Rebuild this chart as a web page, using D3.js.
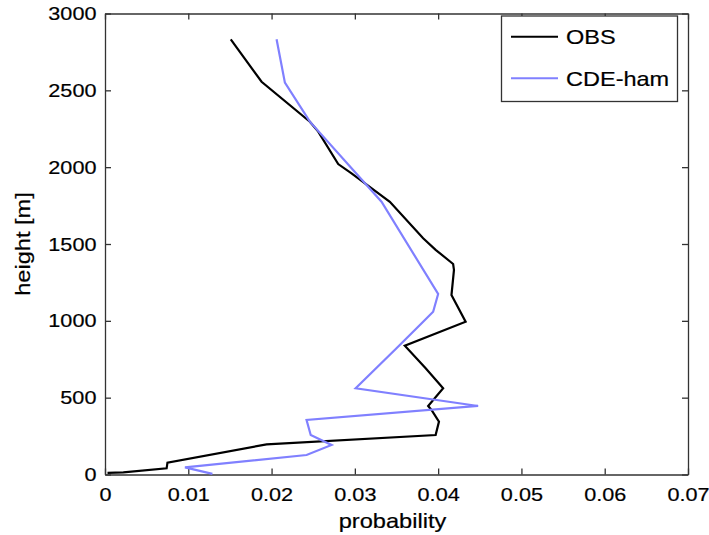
<!DOCTYPE html>
<html>
<head>
<meta charset="utf-8">
<script src="https://cdn.jsdelivr.net/npm/d3@7"></script>
<style>
  html, body { margin: 0; padding: 0; background: #fff; }
  svg { display: block; }
  text { font-family: "Liberation Sans", Arial, Helvetica, sans-serif; fill: #000; }
</style>
</head>
<body>
<svg id="chart" width="709" height="535"></svg>
<script>
// Vertical probability profiles: probability (x) against height in metres (y)
const obsProb   = [0.0151, 0.0188, 0.0246, 0.0256, 0.0280, 0.0296, 0.0342, 0.0382, 0.0397, 0.0418, 0.0419, 0.0416, 0.0433, 0.0360, 0.0385, 0.0406, 0.0388, 0.0392, 0.0401, 0.0397, 0.0194, 0.0075, 0.0074, 0.0022, 0.0003];
const obsHeight = [2832,   2556,   2296,   2231,   2020,   1960,   1775,   1537,   1462,   1370,   1331,   1168,   994,    838,    691,    561,    446,    420,    344,    257,    196,    77,     40,     14,     10];

const cdeProb   = [0.0206, 0.0216, 0.0246, 0.0332, 0.0400, 0.0394, 0.0382, 0.0350, 0.0301, 0.0448, 0.0242, 0.0247, 0.0272, 0.0242, 0.0096, 0.0129];
const cdeHeight = [2832,   2550,   2296,   1775,   1175,   1059,   994,    821,    561,    446,    355,    257,    192,    127,    46,     4];

const xTicks = [0, 0.01, 0.02, 0.03, 0.04, 0.05, 0.06, 0.07];
const yTicks = [0, 500, 1000, 1500, 2000, 2500, 3000];
const seriesNames = ["OBS", "CDE-ham"];
const seriesColors = ["#000000", "#8080ff"];

const svg = d3.select("#chart");
const plotLeft = 105, plotRight = 688, plotTop = 13.5, plotBottom = 474.5;

const x = d3.scaleLinear().domain([0, 0.07]).range([plotLeft, plotRight]);
const y = d3.scaleLinear().domain([0, 3000]).range([plotBottom, plotTop]);

const frameColor = "#333";
const tickLen = 6;
const fontSize = 19;
const widen = 1.14;   // labels use a wide Helvetica-style face

// Axes: box with inward ticks on every side
const xAxisB = d3.axisBottom(x).tickValues(xTicks).tickSizeInner(-tickLen).tickSizeOuter(0)
  .tickPadding(13).tickFormat(d => d === 0 ? "0" : d3.format(".2f")(d));
const xAxisT = d3.axisTop(x).tickValues(xTicks).tickSizeInner(-tickLen).tickSizeOuter(0).tickFormat("");
const yAxisL = d3.axisLeft(y).tickValues(yTicks).tickSizeInner(-tickLen).tickSizeOuter(0)
  .tickPadding(7.5).tickFormat(d3.format("d"));
const yAxisR = d3.axisRight(y).tickValues(yTicks).tickSizeInner(-tickLen).tickSizeOuter(0).tickFormat("");

function style(g) {
  g.select(".domain").attr("stroke", frameColor).attr("stroke-width", 1.3);
  g.selectAll(".tick line").attr("stroke", frameColor).attr("stroke-width", 1.3);
  g.selectAll(".tick text")
    .attr("font-size", fontSize).attr("fill", "#000")
    .attr("stroke", "#000").attr("stroke-width", 0.2)
    .attr("transform", `scale(${widen},1)`)
    .style("font-family", '"Liberation Sans", Arial, sans-serif');
}

svg.append("g").attr("transform", `translate(0,${plotBottom})`).call(xAxisB).call(style);
svg.append("g").attr("transform", `translate(0,${plotTop})`).call(xAxisT).call(style);
svg.append("g").attr("transform", `translate(${plotLeft},0)`).call(yAxisL).call(style);
svg.append("g").attr("transform", `translate(${plotRight},0)`).call(yAxisR).call(style);

// Axis titles
svg.append("text")
  .attr("transform", `translate(${(plotLeft + plotRight) / 2 - 4},528) scale(1.18,1)`)
  .attr("text-anchor", "middle").attr("font-size", 20)
  .attr("stroke", "#000").attr("stroke-width", 0.2)
  .text("probability");
svg.append("text")
  .attr("transform", `translate(30,${(plotTop + plotBottom) / 2}) rotate(-90) scale(1.18,1)`)
  .attr("text-anchor", "middle").attr("font-size", 20)
  .attr("stroke", "#000").attr("stroke-width", 0.2)
  .text("height [m]");

// Profiles
const line = d3.line().x(d => x(d[0])).y(d => y(d[1]));
const obsData = d3.zip(obsProb, obsHeight);
const cdeData = d3.zip(cdeProb, cdeHeight);

svg.append("path").datum(obsData)
  .attr("d", line).attr("fill", "none")
  .attr("stroke", seriesColors[0]).attr("stroke-width", 2.2).attr("stroke-linejoin", "miter");
svg.append("path").datum(cdeData)
  .attr("d", line).attr("fill", "none")
  .attr("stroke", seriesColors[1]).attr("stroke-width", 2.2).attr("stroke-linejoin", "miter");

// Legend
const lg = svg.append("g");
lg.append("rect")
  .attr("x", 501.5).attr("y", 16).attr("width", 176).attr("height", 85.5)
  .attr("fill", "#fff").attr("stroke", frameColor).attr("stroke-width", 1.3);
const legendRows = [36.7, 78.3];
seriesNames.forEach((name, i) => {
  lg.append("line")
    .attr("x1", 511).attr("x2", 558)
    .attr("y1", legendRows[i]).attr("y2", legendRows[i])
    .attr("stroke", seriesColors[i]).attr("stroke-width", 2);
  lg.append("text")
    .attr("transform", `translate(566,${legendRows[i] + 7.5}) scale(1.12,1)`)
    .attr("font-size", 21)
    .attr("stroke", "#000").attr("stroke-width", 0.2)
    .text(name);
});
</script>
</body>
</html>
